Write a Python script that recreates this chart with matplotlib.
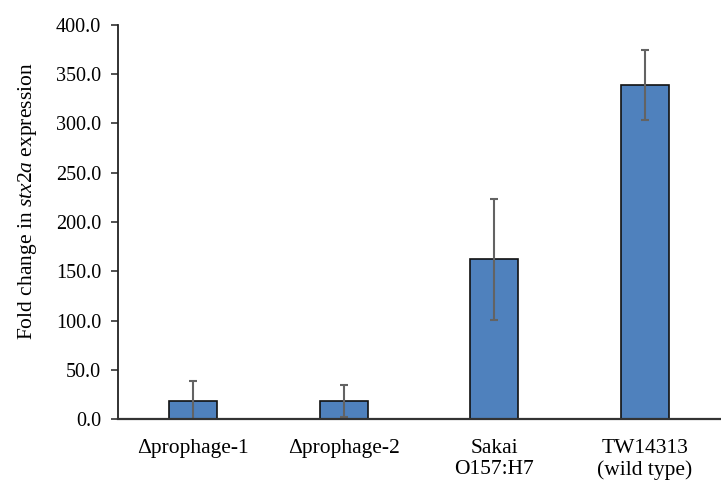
import matplotlib
matplotlib.use("Agg")
import matplotlib.pyplot as plt
import numpy as np

plt.rcParams['font.family'] = ['Liberation Serif', 'DejaVu Serif']
plt.rcParams['mathtext.fontset'] = 'custom'
plt.rcParams['mathtext.rm'] = 'Liberation Serif'
plt.rcParams['mathtext.it'] = 'Liberation Serif:italic'

# Fold change per strain and its error
strains = ['\u0394prophage-1', '\u0394prophage-2', 'Sakai\nO157:H7', 'TW14313\n(wild type)']
fold_change = [18.3, 18.3, 162.0, 339.0]
fold_err = [20.6, 16.4, 61.5, 35.2]

fig = plt.figure(figsize=(7.21, 4.8), dpi=100)
ax = fig.add_axes([0.1637, 0.127, 0.835, 0.821])

x = np.arange(len(strains))
ax.bar(x, fold_change, width=0.32, color='#4F81BD', edgecolor='#111111',
       linewidth=1.2, zorder=2)
ax.errorbar(x, fold_change, yerr=fold_err, fmt='none', ecolor='#636363',
            elinewidth=1.5, capsize=3.2, capthick=1.5, zorder=3)

ax.set_xlim(-0.5, 3.5)
ax.set_ylim(0, 400)
ax.set_yticks(np.arange(0, 401, 50))
ax.set_yticklabels([f'{v:.1f}' for v in np.arange(0, 401, 50)], fontsize=14.5)
ax.set_xticks(x)
ax.set_xticklabels(strains, fontsize=15.5, linespacing=1.12)
ax.tick_params(axis='x', length=0, pad=14.5)
ax.tick_params(axis='y', length=5, width=1.2, color='#333333', pad=7)

ax.set_ylabel(r'Fold change in $\mathit{stx2a}$ expression', fontsize=15.5)
ax.yaxis.set_label_coords(-0.131, 0.553)

for side in ['top', 'right']:
    ax.spines[side].set_visible(False)
ax.spines['left'].set_linewidth(1.3)
ax.spines['left'].set_color('#222222')
ax.spines['bottom'].set_linewidth(1.6)
ax.spines['bottom'].set_color('#333333')
ax.spines['bottom'].set_zorder(4)

fig.savefig('out.png', dpi=100)
